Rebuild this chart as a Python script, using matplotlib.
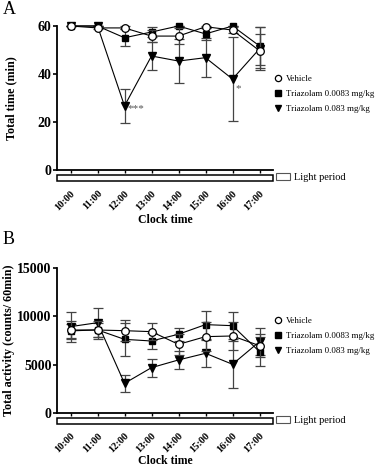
import matplotlib.pyplot as plt
from matplotlib.patches import Rectangle, Patch
from matplotlib.lines import Line2D

plt.rcParams['font.family'] = ['Liberation Serif', 'DejaVu Serif']

hours = ['10:00', '11:00', '12:00', '13:00', '14:00', '15:00', '16:00', '17:00']
labels = ['Vehicle', 'Triazolam 0.0083 mg/kg', 'Triazolam 0.083 mg/kg']

# panel A: total time (min)
time_vehicle = [60, 59.2, 59.2, 55.8, 55.8, 59.7, 58.3, 49.7]
time_vehicle_err = [0, 0.5, 0.6, 2.5, 3.5, 0.4, 1.2, 7.0]
time_low = [60, 60, 55.1, 57.5, 60, 56.7, 60, 51.7]
time_low_err = [0, 0, 3.5, 2.0, 0, 2.5, 0, 8.0]
time_high = [60, 60, 26.7, 47.5, 45.4, 46.8, 37.9, 50.5]
time_high_err = [0, 0, 7.0, 5.8, 9.2, 8.0, 17.5, 9.0]

# panel B: total activity (counts / 60 min)
act_vehicle = [8590, 8590, 8520, 8420, 7100, 7900, 7970, 6960]
act_vehicle_err = [900, 900, 1100, 900, 1100, 1500, 1500, 1200]
act_low = [8500, 8600, 7620, 7450, 8150, 9150, 9040, 6340]
act_low_err = [700, 700, 1700, 800, 700, 1450, 1400, 1500]
act_high = [8940, 9350, 3050, 4680, 5480, 6170, 5030, 7380]
act_high_err = [1550, 1500, 880, 950, 900, 1400, 2450, 1400]

W, H = 384, 468
fig = plt.figure(figsize=(W / 100, H / 100), dpi=100)


def draw_panel(ax, series, errs, ymax, yticks, ylabel, stars, ylab_x, xlab_y):
    styles = [dict(marker='o', mfc='white', mec='black', ms=5.5, mew=0.9, zorder=4),
              dict(marker='s', mfc='black', mec='black', ms=5, zorder=3),
              dict(marker='v', mfc='black', mec='black', ms=5.5, zorder=3)]
    x = list(range(len(hours)))
    for vals, err, st in zip(series, errs, styles):
        ax.errorbar(x, vals, yerr=err, color='black', lw=0.8, ecolor='#444444',
                    elinewidth=0.9, capsize=3.5, capthick=0.9, clip_on=False, **st)
    for xi, yi, s in stars:
        ax.text(xi + 0.1, yi, s, fontsize=8, color='#555555', va='center', ha='left')
    ax.set_xlim(-0.5, 7.5)
    ax.set_ylim(0, ymax)
    ax.set_yticks(yticks)
    ax.set_yticklabels([str(t) for t in yticks], fontsize=10, fontweight='bold')
    ax.set_xticks(x)
    ax.set_xticklabels(hours, rotation=45, ha='right', rotation_mode='anchor',
                       fontsize=7.5, fontweight='bold')
    ax.tick_params(axis='x', length=2.5, width=1, pad=11)
    ax.tick_params(axis='y', length=3, width=1.2, pad=1)
    for s in ['top', 'right']:
        ax.spines[s].set_visible(False)
    for s in ['left', 'bottom']:
        ax.spines[s].set_linewidth(1.3)
    ax.set_ylabel(ylabel, fontsize=8.7, fontweight='bold', va='center')
    ax.yaxis.set_label_coords(ylab_x, 0.5)
    ax.set_xlabel('Clock time', fontsize=8.5, fontweight='bold', va='center')
    ax.xaxis.set_label_coords(0.5, xlab_y)
    # light period bar
    ax.add_patch(Rectangle((0, -0.078), 1, 0.042, transform=ax.transAxes,
                           fill=False, ec='black', lw=1.1, clip_on=False))
    handles = [Line2D([], [], ls='none', **st) for st in styles]
    for h in handles:
        h.set_markersize(4.5)
    leg = ax.legend(handles, labels, loc='center left', bbox_to_anchor=(0.98, 0.53),
                    frameon=False, fontsize=6.4, handlelength=0.8, handletextpad=0.4,
                    labelspacing=0.75, borderaxespad=0.3)
    ax.add_artist(leg)
    ax.legend([Patch(fc='white', ec='#555555', lw=0.8)], ['Light period'],
              loc='center left', bbox_to_anchor=(0.98, -0.055), frameon=False,
              fontsize=7.5, handlelength=1.3, handleheight=0.6, handletextpad=0.4,
              borderaxespad=0.3)


axA = fig.add_axes([57 / W, 1 - 170 / H, 216 / W, 144 / H])
draw_panel(axA, [time_vehicle, time_low, time_high],
           [time_vehicle_err, time_low_err, time_high_err],
           60, [0, 20, 40, 60], 'Total time (min)',
           [(2, 25.5, '***'), (6, 34, '*')], -0.213, -0.347)

axB = fig.add_axes([57 / W, 1 - 412.7 / H, 216 / W, 144.4 / H])
draw_panel(axB, [act_vehicle, act_low, act_high],
           [act_vehicle_err, act_low_err, act_high_err],
           15000, [0, 5000, 10000, 15000], 'Total activity (counts/ 60min)', [],
           -0.222, -0.334)

fig.text(3 / W, 1 - 10 / H, 'A', fontsize=13, va='center', ha='left')
fig.text(3 / W, 1 - 240 / H, 'B', fontsize=13, va='center', ha='left')

fig.savefig('out.png', dpi=100)
